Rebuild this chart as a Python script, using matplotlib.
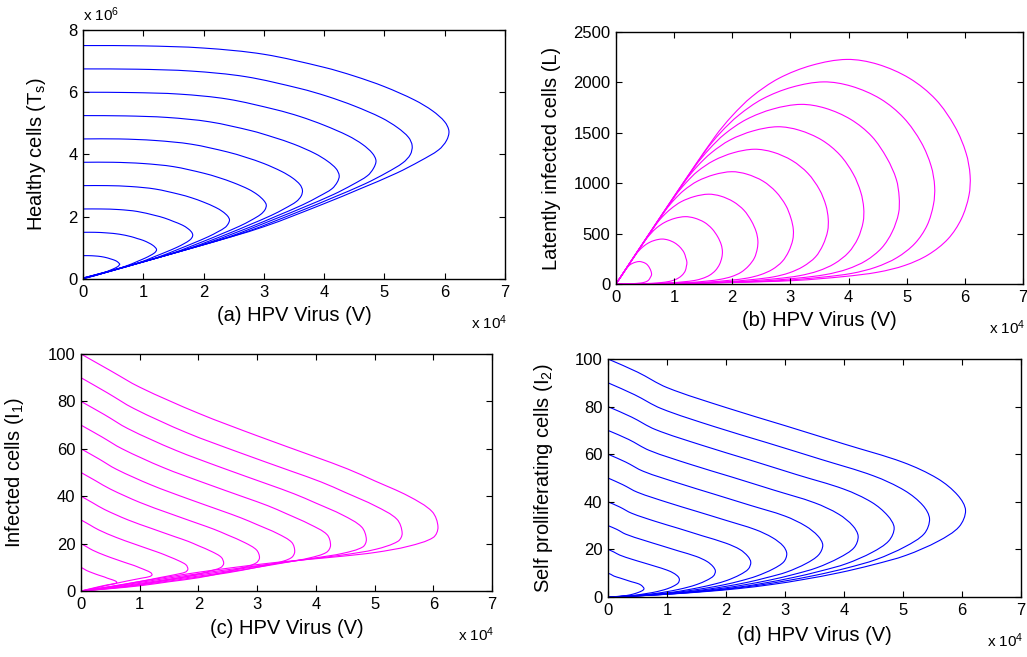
import matplotlib
matplotlib.use("Agg")
import numpy as np
import matplotlib.pyplot as plt
from matplotlib.path import Path
from matplotlib.patches import PathPatch

plt.rcParams['font.family'] = ['Liberation Sans', 'DejaVu Sans']
plt.rcParams['mathtext.default'] = 'regular'

# ---- data (V in units of 1e4) ----
# (a) healthy cells Ts (units of 1e6) vs V, one list per trajectory
a_v = [
    [0, 0.1, 0.2, 0.3, 0.4, 0.45, 0.5, 0.55, 0.58, 0.6, 0.61, 0.6, 0.59, 0.56, 0.52, 0.46, 0.4, 0.3, 0.2, 0.1, 0.05, 0],
    [0, 0.2, 0.4, 0.6, 0.8, 0.9, 1.0, 1.1, 1.16, 1.2, 1.22, 1.21, 1.18, 1.12, 1.04, 0.92, 0.8, 0.6, 0.4, 0.2, 0.1, 0],
    [0, 0.3, 0.6, 0.9, 1.2, 1.35, 1.5, 1.65, 1.74, 1.8, 1.82, 1.81, 1.77, 1.68, 1.56, 1.38, 1.2, 0.9, 0.6, 0.3, 0.15, 0],
    [0, 0.4, 0.8, 1.2, 1.6, 1.8, 2.0, 2.2, 2.32, 2.4, 2.43, 2.41, 2.36, 2.24, 2.08, 1.84, 1.6, 1.2, 0.8, 0.4, 0.2, 0],
    [0, 0.5, 1.0, 1.5, 2.0, 2.25, 2.5, 2.75, 2.9, 3.0, 3.04, 3.02, 2.95, 2.8, 2.6, 2.3, 2.0, 1.5, 1.0, 0.5, 0.25, 0],
    [0, 0.6, 1.2, 1.8, 2.4, 2.7, 3.0, 3.3, 3.48, 3.6, 3.64, 3.62, 3.54, 3.36, 3.12, 2.76, 2.4, 1.8, 1.2, 0.6, 0.3, 0],
    [0, 0.7, 1.4, 2.1, 2.8, 3.15, 3.5, 3.85, 4.06, 4.2, 4.25, 4.22, 4.13, 3.92, 3.64, 3.22, 2.8, 2.1, 1.4, 0.7, 0.35, 0],
    [0, 0.8, 1.6, 2.4, 3.2, 3.6, 4.0, 4.4, 4.64, 4.8, 4.86, 4.82, 4.72, 4.48, 4.16, 3.68, 3.2, 2.4, 1.6, 0.8, 0.4, 0],
    [0, 0.9, 1.8, 2.7, 3.6, 4.05, 4.5, 4.95, 5.22, 5.4, 5.46, 5.43, 5.31, 5.04, 4.68, 4.14, 3.6, 2.7, 1.8, 0.9, 0.45, 0],
    [0, 1, 2, 3, 4, 4.5, 5, 5.5, 5.8, 6.0, 6.07, 6.03, 5.9, 5.6, 5.2, 4.6, 4.0, 3.0, 2.0, 1.0, 0.5, 0],
]
a_t = [
    [0.75, 0.75, 0.74, 0.72, 0.68, 0.65, 0.62, 0.58, 0.54, 0.5, 0.47, 0.45, 0.42, 0.38, 0.34, 0.29, 0.24, 0.17, 0.11, 0.06, 0.03, 0.01],
    [1.5, 1.5, 1.48, 1.44, 1.36, 1.3, 1.24, 1.15, 1.08, 1.01, 0.95, 0.89, 0.83, 0.76, 0.68, 0.58, 0.48, 0.34, 0.22, 0.11, 0.06, 0.01],
    [2.25, 2.25, 2.23, 2.17, 2.04, 1.96, 1.85, 1.73, 1.62, 1.51, 1.42, 1.34, 1.25, 1.14, 1.02, 0.87, 0.73, 0.5, 0.33, 0.17, 0.09, 0.02],
    [3.0, 3.0, 2.97, 2.89, 2.72, 2.61, 2.47, 2.3, 2.16, 2.02, 1.9, 1.78, 1.66, 1.52, 1.36, 1.16, 0.97, 0.67, 0.44, 0.22, 0.12, 0.02],
    [3.75, 3.75, 3.71, 3.61, 3.4, 3.26, 3.09, 2.88, 2.7, 2.52, 2.38, 2.23, 2.08, 1.9, 1.7, 1.45, 1.21, 0.84, 0.55, 0.28, 0.15, 0.02],
    [4.5, 4.5, 4.45, 4.33, 4.08, 3.91, 3.71, 3.45, 3.24, 3.03, 2.85, 2.67, 2.49, 2.28, 2.04, 1.74, 1.45, 1.01, 0.66, 0.34, 0.17, 0.02],
    [5.25, 5.24, 5.19, 5.05, 4.76, 4.56, 4.33, 4.03, 3.78, 3.54, 3.32, 3.12, 2.9, 2.66, 2.38, 2.03, 1.69, 1.18, 0.77, 0.39, 0.2, 0.02],
    [6.0, 5.99, 5.94, 5.78, 5.44, 5.22, 4.94, 4.6, 4.32, 4.04, 3.8, 3.56, 3.32, 3.04, 2.72, 2.32, 1.94, 1.34, 0.88, 0.45, 0.23, 0.03],
    [6.75, 6.74, 6.68, 6.5, 6.12, 5.87, 5.56, 5.18, 4.86, 4.55, 4.28, 4.0, 3.74, 3.42, 3.06, 2.61, 2.18, 1.51, 0.99, 0.5, 0.26, 0.03],
    [7.5, 7.49, 7.42, 7.22, 6.8, 6.52, 6.18, 5.75, 5.4, 5.05, 4.75, 4.45, 4.15, 3.8, 3.4, 2.9, 2.42, 1.68, 1.1, 0.56, 0.29, 0.03],
]

# (b) latently infected cells L vs V
b_v = [
    [0, 0.1, 0.17, 0.2, 0.23, 0.28, 0.34, 0.4, 0.45, 0.51, 0.55, 0.58, 0.6, 0.61, 0.61, 0.59, 0.57, 0.54, 0.5, 0.45, 0.39, 0.31, 0.19, 0.1, 0],
    [0, 0.2, 0.34, 0.4, 0.47, 0.56, 0.67, 0.79, 0.9, 1.01, 1.1, 1.17, 1.2, 1.22, 1.21, 1.19, 1.14, 1.07, 0.99, 0.9, 0.79, 0.62, 0.39, 0.2, 0],
    [0, 0.3, 0.51, 0.6, 0.7, 0.84, 1.01, 1.19, 1.35, 1.52, 1.65, 1.75, 1.81, 1.83, 1.82, 1.78, 1.71, 1.61, 1.49, 1.35, 1.18, 0.93, 0.58, 0.3, 0],
    [0, 0.4, 0.68, 0.8, 0.94, 1.12, 1.35, 1.59, 1.8, 2.02, 2.2, 2.33, 2.41, 2.44, 2.43, 2.38, 2.28, 2.15, 1.99, 1.8, 1.58, 1.24, 0.78, 0.4, 0],
    [0, 0.5, 0.85, 1.0, 1.17, 1.4, 1.69, 1.99, 2.25, 2.53, 2.75, 2.92, 3.01, 3.05, 3.04, 2.97, 2.86, 2.69, 2.49, 2.26, 1.97, 1.55, 0.97, 0.5, 0],
    [0, 0.6, 1.02, 1.2, 1.4, 1.68, 2.02, 2.38, 2.7, 3.03, 3.3, 3.5, 3.61, 3.65, 3.64, 3.56, 3.43, 3.22, 2.98, 2.71, 2.36, 1.85, 1.16, 0.6, 0],
    [0, 0.7, 1.19, 1.4, 1.64, 1.96, 2.36, 2.78, 3.15, 3.54, 3.85, 4.08, 4.21, 4.26, 4.25, 4.16, 4.0, 3.76, 3.48, 3.16, 2.76, 2.16, 1.36, 0.7, 0],
    [0, 0.8, 1.36, 1.6, 1.87, 2.24, 2.7, 3.18, 3.6, 4.04, 4.4, 4.66, 4.82, 4.87, 4.86, 4.75, 4.57, 4.3, 3.98, 3.61, 3.15, 2.47, 1.55, 0.8, 0],
    [0, 0.9, 1.53, 1.8, 2.11, 2.52, 3.03, 3.57, 4.05, 4.55, 4.95, 5.25, 5.42, 5.48, 5.46, 5.35, 5.14, 4.83, 4.47, 4.06, 3.55, 2.78, 1.75, 0.9, 0],
    [0, 1, 1.7, 2.0, 2.34, 2.8, 3.37, 3.97, 4.5, 5.05, 5.5, 5.83, 6.02, 6.09, 6.07, 5.94, 5.71, 5.37, 4.97, 4.51, 3.94, 3.09, 1.94, 1, 0],
]
b_l = [
    [0, 87, 146, 167, 186, 204, 217, 223, 218, 204, 183, 156, 130, 108, 88, 65, 45, 29, 19, 12, 8, 4, 1, 1, 0],
    [0, 174, 292, 334, 372, 408, 434, 446, 436, 408, 366, 312, 260, 215, 175, 129, 89, 58, 37, 24, 15, 7, 3, 1, 0],
    [0, 261, 438, 501, 558, 612, 651, 668, 654, 612, 549, 468, 390, 323, 263, 194, 134, 87, 56, 35, 23, 11, 4, 2, 0],
    [0, 348, 584, 668, 744, 816, 868, 891, 872, 816, 732, 624, 520, 430, 351, 258, 179, 116, 74, 47, 30, 14, 6, 2, 0],
    [0, 435, 730, 835, 930, 1020, 1085, 1114, 1090, 1020, 915, 780, 650, 538, 439, 323, 224, 145, 93, 59, 38, 18, 7, 3, 0],
    [0, 522, 876, 1002, 1116, 1224, 1302, 1337, 1308, 1224, 1098, 936, 780, 646, 526, 388, 268, 174, 111, 71, 45, 21, 8, 3, 0],
    [0, 609, 1022, 1169, 1302, 1428, 1519, 1560, 1526, 1428, 1281, 1092, 910, 753, 614, 452, 313, 203, 130, 83, 53, 25, 10, 4, 0],
    [0, 696, 1168, 1336, 1488, 1632, 1736, 1782, 1744, 1632, 1464, 1248, 1040, 861, 702, 517, 358, 232, 148, 94, 60, 28, 11, 4, 0],
    [0, 783, 1314, 1503, 1674, 1836, 1953, 2005, 1962, 1836, 1647, 1404, 1170, 968, 789, 581, 402, 261, 167, 106, 68, 32, 13, 5, 0],
    [0, 870, 1460, 1670, 1860, 2040, 2170, 2228, 2180, 2040, 1830, 1560, 1300, 1076, 877, 646, 447, 290, 185, 118, 75, 35, 14, 5, 0],
]

# (c) infected cells I1 vs V
c_v = [
    [0, 0.05, 0.1, 0.2, 0.3, 0.4, 0.45, 0.5, 0.56, 0.6, 0.61, 0.57, 0.45, 0.25, 0],
    [0, 0.1, 0.2, 0.4, 0.6, 0.8, 0.91, 1.0, 1.11, 1.19, 1.21, 1.17, 1.05, 0.8, 0.5, 0.25, 0],
    [0, 0.15, 0.3, 0.6, 0.9, 1.2, 1.36, 1.5, 1.67, 1.79, 1.82, 1.78, 1.6, 1.35, 1.0, 0.5, 0],
    [0, 0.2, 0.4, 0.8, 1.2, 1.6, 1.82, 2.0, 2.23, 2.39, 2.43, 2.38, 2.18, 1.9, 1.5, 1, 0.5, 0],
    [0, 0.25, 0.5, 1.0, 1.5, 2.0, 2.27, 2.5, 2.79, 2.99, 3.04, 2.98, 2.75, 2.4, 2, 1.5, 1, 0.5, 0],
    [0, 0.3, 0.6, 1.2, 1.8, 2.4, 2.72, 3.0, 3.35, 3.59, 3.64, 3.58, 3.33, 3.0, 2.5, 2, 1.5, 1, 0.5, 0],
    [0, 0.35, 0.7, 1.4, 2.1, 2.8, 3.18, 3.5, 3.9, 4.19, 4.25, 4.18, 3.9, 3.5, 3.0, 2.5, 2, 1.5, 1, 0.5, 0],
    [0, 0.4, 0.8, 1.6, 2.4, 3.2, 3.63, 4.0, 4.46, 4.78, 4.86, 4.8, 4.46, 4.0, 3.5, 3.0, 2.5, 2, 1.5, 1, 0.5, 0],
    [0, 0.45, 0.9, 1.8, 2.7, 3.6, 4.09, 4.5, 5.02, 5.38, 5.47, 5.4, 5.02, 4.46, 3.9, 3.3, 2.5, 2, 1.5, 1, 0.5, 0],
    [0, 0.5, 1, 2, 3, 4, 4.54, 5, 5.58, 5.98, 6.08, 6.0, 5.58, 5.02, 4.46, 3.9, 3.3, 2.5, 2, 1.5, 1, 0.5, 0],
]
c_i = [
    [10, 9.3, 8.6, 7.6, 6.7, 5.9, 5.4, 5.0, 4.5, 4.0, 3.5, 3.1, 2.6, 1.5, 0],
    [20, 18.6, 17.2, 15.1, 13.3, 11.6, 10.7, 9.8, 8.7, 7.7, 6.8, 6.1, 5.5, 4.3, 2.7, 1.3, 0],
    [30, 27.9, 25.8, 22.6, 19.9, 17.3, 15.9, 14.5, 12.7, 11, 9.2, 8.0, 6.9, 5.7, 4.0, 1.8, 0],
    [40, 37.2, 34.4, 30, 26.4, 22.9, 21, 19.1, 16.6, 14.2, 11.6, 9.9, 8.3, 6.6, 4.8, 2.8, 1.2, 0],
    [50, 46.5, 43, 37.4, 32.8, 28.4, 26, 23.6, 20.4, 17.3, 14, 11.8, 9.8, 7.6, 5.6, 3.9, 2.2, 1.0, 0],
    [60, 55.8, 51.4, 44.7, 39.1, 33.8, 30.9, 28, 24.2, 20.5, 16.6, 14.0, 11.8, 10.0, 7.7, 5.9, 4.2, 2.5, 1.1, 0],
    [70, 65.1, 60, 52.1, 45.6, 39.4, 36, 32.6, 28.1, 23.8, 19.2, 16.3, 14.0, 12.1, 10.0, 8.0, 6.3, 4.6, 2.8, 1.3, 0],
    [80, 74.4, 68.5, 59.5, 52, 44.9, 41, 37.1, 32, 27, 21.8, 18.6, 15.9, 14.0, 12.2, 10.4, 8.5, 6.8, 5.0, 3.2, 1.5, 0],
    [90, 83.6, 77, 66.8, 58.4, 50.4, 46, 41.6, 35.8, 30.3, 24.4, 21.0, 17.6, 15.2, 13.5, 11.6, 9.0, 7.3, 5.5, 3.6, 1.7, 0],
    [100, 93, 86, 75, 65.5, 56.5, 51.5, 46.5, 40, 33.5, 27, 22.6, 18.9, 16.3, 14.7, 13.4, 12.0, 9.6, 7.9, 6.0, 4.0, 1.9, 0],
]

# (d) self proliferating cells I2 vs V
d_v = [
    [0, 0.05, 0.1, 0.2, 0.3, 0.4, 0.5, 0.56, 0.59, 0.61, 0.6, 0.56, 0.5, 0.45, 0.39, 0.33, 0.28, 0.22, 0.17, 0.11, 0.05, 0],
    [0, 0.1, 0.2, 0.4, 0.6, 0.8, 1.0, 1.12, 1.19, 1.21, 1.19, 1.12, 1.01, 0.9, 0.78, 0.66, 0.56, 0.44, 0.33, 0.22, 0.1, 0],
    [0, 0.15, 0.3, 0.6, 0.9, 1.2, 1.5, 1.68, 1.78, 1.82, 1.79, 1.68, 1.51, 1.35, 1.18, 0.99, 0.84, 0.66, 0.5, 0.33, 0.16, 0],
    [0, 0.2, 0.4, 0.8, 1.2, 1.6, 2.0, 2.24, 2.37, 2.42, 2.38, 2.24, 2.02, 1.8, 1.57, 1.32, 1.12, 0.88, 0.66, 0.44, 0.21, 0],
    [0, 0.25, 0.5, 1.0, 1.5, 2.0, 2.5, 2.79, 2.97, 3.03, 2.98, 2.8, 2.52, 2.25, 1.96, 1.65, 1.39, 1.1, 0.83, 0.55, 0.26, 0],
    [0, 0.3, 0.6, 1.2, 1.8, 2.4, 3.0, 3.35, 3.56, 3.64, 3.57, 3.36, 3.03, 2.7, 2.35, 1.98, 1.67, 1.32, 1.0, 0.66, 0.32, 0],
    [0, 0.35, 0.7, 1.4, 2.1, 2.8, 3.5, 3.91, 4.15, 4.24, 4.17, 3.92, 3.54, 3.15, 2.74, 2.31, 1.95, 1.54, 1.16, 0.77, 0.37, 0],
    [0, 0.4, 0.8, 1.6, 2.4, 3.2, 4.0, 4.47, 4.74, 4.85, 4.76, 4.48, 4.04, 3.6, 3.14, 2.64, 2.23, 1.76, 1.33, 0.88, 0.42, 0],
    [0, 0.45, 0.9, 1.8, 2.7, 3.6, 4.5, 5.03, 5.34, 5.45, 5.36, 5.04, 4.55, 4.05, 3.53, 2.97, 2.51, 1.98, 1.49, 0.99, 0.48, 0],
    [0, 0.5, 1, 2, 3, 4, 5, 5.59, 5.93, 6.06, 5.95, 5.6, 5.05, 4.5, 3.92, 3.3, 2.79, 2.2, 1.66, 1.1, 0.53, 0],
]
d_i = [
    [10, 9.5, 8.8, 8.0, 7.2, 6.4, 5.7, 5.0, 4.3, 3.6, 3.0, 2.4, 1.8, 1.4, 1.0, 0.7, 0.5, 0.35, 0.25, 0.15, 0.05, 0],
    [20, 18.9, 17.6, 15.9, 14.4, 12.9, 11.3, 9.9, 8.5, 7.3, 5.9, 4.7, 3.5, 2.7, 2.0, 1.5, 1.1, 0.7, 0.5, 0.3, 0.1, 0],
    [30, 28.4, 26.4, 23.9, 21.6, 19.3, 17, 14.9, 12.8, 10.9, 8.9, 7.1, 5.3, 4.1, 3.1, 2.2, 1.6, 1.1, 0.7, 0.4, 0.15, 0],
    [40, 37.8, 35.2, 31.8, 28.8, 25.7, 22.6, 19.9, 17.1, 14.6, 11.8, 9.4, 7.0, 5.4, 4.1, 2.9, 2.1, 1.4, 0.9, 0.5, 0.2, 0],
    [50, 47.2, 44, 39.8, 36, 32.2, 28.3, 24.9, 21.4, 18.2, 14.8, 11.8, 8.8, 6.8, 5.1, 3.7, 2.7, 1.8, 1.2, 0.7, 0.25, 0],
    [60, 56.7, 52.8, 47.8, 43.2, 38.6, 34, 29.8, 25.6, 21.8, 17.7, 14.1, 10.5, 8.2, 6.1, 4.4, 3.2, 2.1, 1.4, 0.8, 0.3, 0],
    [70, 66.2, 61.6, 55.7, 50.4, 45, 39.6, 34.8, 29.9, 25.5, 20.7, 16.5, 12.3, 9.5, 7.1, 5.1, 3.7, 2.5, 1.6, 0.9, 0.35, 0],
    [80, 75.6, 70.4, 63.7, 57.6, 51.4, 45.3, 39.8, 34.2, 29.1, 23.6, 18.8, 14, 10.9, 8.2, 5.8, 4.2, 2.8, 1.8, 1.0, 0.4, 0],
    [90, 85, 79.2, 71.6, 64.8, 57.9, 50.9, 44.7, 38.4, 32.8, 26.6, 21.2, 15.8, 12.2, 9.2, 6.6, 4.8, 3.2, 2.1, 1.2, 0.45, 0],
    [100, 94.5, 88, 79.6, 72, 64.3, 56.6, 49.7, 42.7, 36.4, 29.5, 23.5, 17.5, 13.6, 10.2, 7.3, 5.3, 3.5, 2.3, 1.3, 0.5, 0],
]

W, H = 1027, 657
fig = plt.figure(figsize=(W / 100, H / 100), dpi=100)


def px_axes(x0, y0, x1, y1):
    return fig.add_axes([x0 / W, 1 - y1 / H, (x1 - x0) / W, (y1 - y0) / H])


def smooth_line(ax, x, y, ymax, color):
    # draw the read points as one smooth bezier path (chordal hermite style)
    bb = ax.get_position()
    sx = bb.width * W / 7.0
    sy = bb.height * H / ymax
    p = np.column_stack([np.asarray(x, float) * sx, np.asarray(y, float) * sy])
    d = np.linalg.norm(np.diff(p, axis=0), axis=1)
    d[d == 0] = 1e-9
    tang = np.zeros_like(p)
    tang[0] = (p[1] - p[0]) / d[0]
    tang[-1] = (p[-1] - p[-2]) / d[-1]
    for k in range(1, len(p) - 1):
        tang[k] = (p[k + 1] - p[k - 1]) / (d[k - 1] + d[k])
    verts = [p[0]]
    codes = [Path.MOVETO]
    for k in range(len(p) - 1):
        verts += [p[k] + tang[k] * d[k] / 3, p[k + 1] - tang[k + 1] * d[k] / 3, p[k + 1]]
        codes += [Path.CURVE4] * 3
    verts = np.array(verts)
    verts[:, 0] /= sx
    verts[:, 1] /= sy
    ax.add_patch(PathPatch(Path(verts, codes), fill=False, edgecolor=color,
                           lw=0.8, capstyle='round', joinstyle='round'))


def style(ax, ylim, yticks, xlabel, ylabel, ylab_x, xlab_y):
    ax.set_xlim(0, 7)
    ax.set_xticks(range(8))
    ax.set_ylim(*ylim)
    ax.set_yticks(yticks)
    ax.tick_params(direction='in', top=True, right=True, length=4, width=0.8,
                   labelsize=12, pad=4)
    for sp in ax.spines.values():
        sp.set_linewidth(1.0)
    ax.set_xlabel(xlabel, fontsize=14.5)
    ax.set_ylabel(ylabel, fontsize=14.5)
    ax.yaxis.set_label_coords(ylab_x, 0.5)
    ax.xaxis.set_label_coords(0.5, xlab_y)
    ax.annotate(r'x 10$^4$', xy=(1, 0), xycoords='axes fraction',
                xytext=(2, -44), textcoords='offset pixels',
                ha='right', va='center', fontsize=11, annotation_clip=False)


blue = '#0000ff'
magenta = '#ff00ff'

# (a)
ax = px_axes(83, 30, 505, 279)
for v, t in zip(a_v, a_t):
    smooth_line(ax, v, t, 8, blue)
style(ax, (0, 8), range(0, 9, 2), '(a) HPV Virus (V)', 'Healthy cells (T$_s$)',
      -0.083, -0.108)
ax.annotate(r'x 10$^6$', xy=(0, 1), xycoords='axes fraction',
            xytext=(0, 15), textcoords='offset pixels',
            ha='left', va='center', fontsize=11)

# (b)
ax = px_axes(616, 32, 1023, 284)
for v, l in zip(b_v, b_l):
    smooth_line(ax, v, l, 2500, magenta)
style(ax, (0, 2500), range(0, 2501, 500), '(b) HPV Virus (V)',
      'Latently infected cells (L)', -0.135, -0.107)

# (c)
ax = px_axes(81, 354, 492, 591)
for v, i in zip(c_v, c_i):
    smooth_line(ax, v, i, 100, magenta)
style(ax, (0, 100), range(0, 101, 20), '(c) HPV Virus (V)',
      'Infected cells (I$_1$)', -0.134, -0.118)

# (d)
ax = px_axes(608, 359, 1021, 597)
for v, i in zip(d_v, d_i):
    smooth_line(ax, v, i, 100, blue)
style(ax, (0, 100), range(0, 101, 20), '(d) HPV Virus (V)',
      'Self prolliferating cells (I$_2$)', -0.128, -0.122)

fig.savefig('out.png', dpi=100)
